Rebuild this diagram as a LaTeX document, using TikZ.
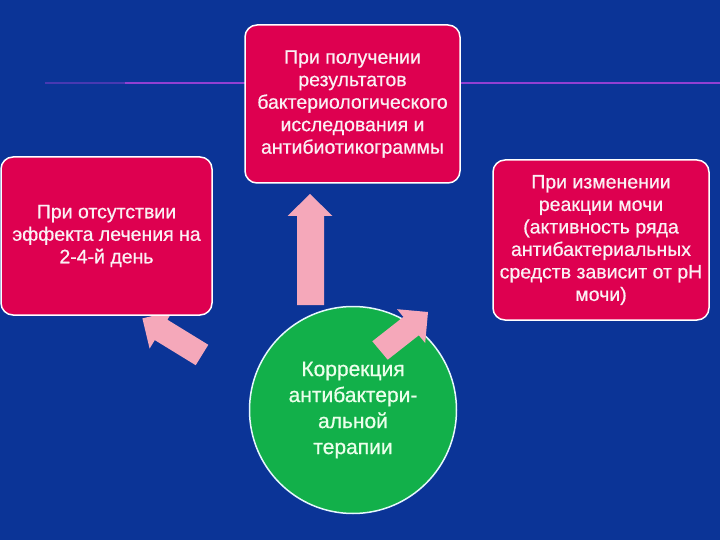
\documentclass[tikz,border=0pt]{standalone}
\usepackage{fontspec}
\setmainfont{Liberation Sans}[BoldFont=Liberation Sans, BoldFeatures={FakeBold=0.6}]
\definecolor{bgblue}{HTML}{0B3497}
\definecolor{boxred}{HTML}{DE0050}
\definecolor{circgreen}{HTML}{12B04A}
\definecolor{arrowpink}{HTML}{F5A8BA}
\definecolor{linepurple}{HTML}{9240D2}
\definecolor{textwhite}{HTML}{FBF0F4}
\tikzset{
  redbox/.style={draw=white, line width=1.5pt, fill=boxred, rounded corners=12pt,
    text=textwhite, align=center, inner sep=0pt,
    font=\bfseries\fontsize{19.5}{22.5}\selectfont},
  greencirc/.style={circle, draw=white!90!cyan, line width=1.5pt, fill=circgreen,
    text=white!92!green, align=center, inner sep=0pt,
    font=\bfseries\fontsize{21}{26}\selectfont},
  fatarrow/.style={fill=arrowpink},
  hline/.style={line width=2pt, draw=linepurple}
}
\begin{document}
\begin{tikzpicture}[x=1pt, y=-1pt]
\fill[bgblue] (0,0) rectangle (720,540);
\useasboundingbox (0,0) rectangle (720,540);
% horizontal line
\coordinate (l0) at (45,83);
\coordinate (l1) at (125,83);
\coordinate (l2) at (720,83);
\draw[hline, draw=linepurple!45!bgblue] (l0) -- (l1);
\draw[hline] (l1) -- (l2);
% circle
\node[greencirc, minimum size=207pt] (c) at (353,410) {Коррекция\\антибактери-\\альной\\терапии};
% arrows
\fill[fatarrow] (297,305) -- (297,216) -- (287.5,216) -- (310,194) -- (332.5,216) -- (324,216) -- (324,305) -- cycle;
\fill[fatarrow] (208.3,344.8) -- (167.4,319.7) -- (172.6,311.2) -- (142.4,318.4) -- (149.6,348.6) -- (154.8,340.1) -- (195.7,365.2) -- cycle;
\fill[fatarrow] (372.3,341.3) -- (403.4,316.9) -- (397,309.2) -- (428,312) -- (425.2,343) -- (418.8,335.3) -- (387.7,359.7) -- cycle;
% boxes
\node[redbox, minimum width=215pt, minimum height=158pt] (top) at (352.5,104)
  {При получении\\результатов\\бактериологического\\исследования и\\антибиотикограммы};
\node[redbox, minimum width=211pt, minimum height=158pt] (left) at (106.5,236)
  {При отсутствии\\эффекта лечения на\\2-4-й день};
\node[redbox, minimum width=216pt, minimum height=160pt] (right) at (601,240)
  {При изменении\\реакции мочи\\(активность ряда\\антибактериальных\\средств зависит от рН\\мочи)};
\end{tikzpicture}
\end{document}
